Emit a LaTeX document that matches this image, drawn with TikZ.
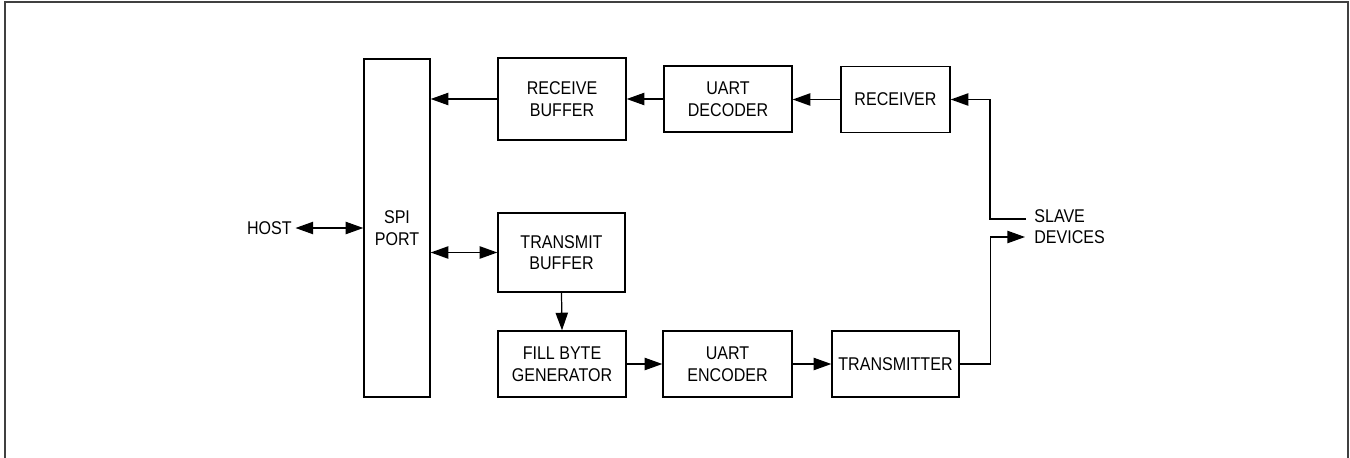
\documentclass[tikz,border=0pt]{standalone}
\usepackage{fontspec}
\setmainfont[FakeStretch=0.87]{Liberation Sans}
\usetikzlibrary{arrows.meta}

\begin{document}
\begin{tikzpicture}
      [blk/.style={
           rectangle,
           draw=black, line width=0.8pt,
           align=center,
           inner sep=0pt,
           font=\fontsize{10.5}{12.3}\selectfont
         },
       lbl/.style={
           inner sep=0pt,
           align=left,
           font=\fontsize{10.5}{12.3}\selectfont
         },
       flow/.style={
           draw=black, line width=0.7pt,
           -{Triangle[length=10pt,width=7pt]}
         },
       bothflow/.style={
           flow,
           {Triangle[length=10pt,width=7pt]}-{Triangle[length=10pt,width=7pt]}
         },
       ]
    \useasboundingbox (0,0) rectangle (27,9.14);
    \draw [line width=1pt, black!75] (0.1,-0.2) -- (0.1,9.1) -- (26.96,9.1) -- (26.96,-0.2);

    \node [blk, minimum width=1.32cm, minimum height=6.76cm] (spi) at (7.94,4.58) {SPI\\PORT};

    \node [blk, minimum width=2.56cm, minimum height=1.64cm] (rbuf) at (11.24,7.16) {RECEIVE\\BUFFER};
    \node [blk, minimum width=2.56cm, minimum height=1.32cm] (dec) at (14.56,7.16) {UART\\DECODER};
    \node [blk, minimum width=2.18cm, minimum height=1.32cm] (rx) at (17.91,7.15) {RECEIVER};

    \node [blk, minimum width=2.54cm, minimum height=1.58cm] (tbuf) at (11.23,4.09) {TRANSMIT\\BUFFER};
    \node [blk, minimum width=2.56cm, minimum height=1.32cm] (fill) at (11.24,1.86) {FILL BYTE\\GENERATOR};
    \node [blk, minimum width=2.58cm, minimum height=1.32cm] (enc) at (14.55,1.86) {UART\\ENCODER};
    \node [blk, minimum width=2.54cm, minimum height=1.32cm] (tx) at (17.91,1.86) {TRANSMITTER};

    \node [lbl, anchor=east] (host) at (5.84,4.58) {HOST};
    \node [lbl, anchor=west] (slave) at (20.68,4.61) {SLAVE\\DEVICES};
    \coordinate (slvin) at (20.52,4.76);
    \coordinate (slvout) at (20.5,4.4);

    \path (rbuf.west) edge [flow] (rbuf.west -| spi.east);
    \path (dec.west) edge [flow] (dec.west -| rbuf.east);
    \path (rx.west) edge [flow] (rx.west -| dec.east);
    \draw [flow] (slvin) -- ++(-0.72,0) |- (rx.east);

    \path (host.east) edge [bothflow, shorten <=2pt] (spi.west);
    \path (tbuf.west -| spi.east) edge [bothflow] (tbuf.west);
    \path (tbuf.south) edge [flow] (fill.north);
    \path (fill.east) edge [flow] (enc.west);
    \path (enc.east) edge [flow] (tx.west);
    \draw [flow] (tx.east) -- ++(0.62,0) |- (slvout);

  \end{tikzpicture}
\end{document}
